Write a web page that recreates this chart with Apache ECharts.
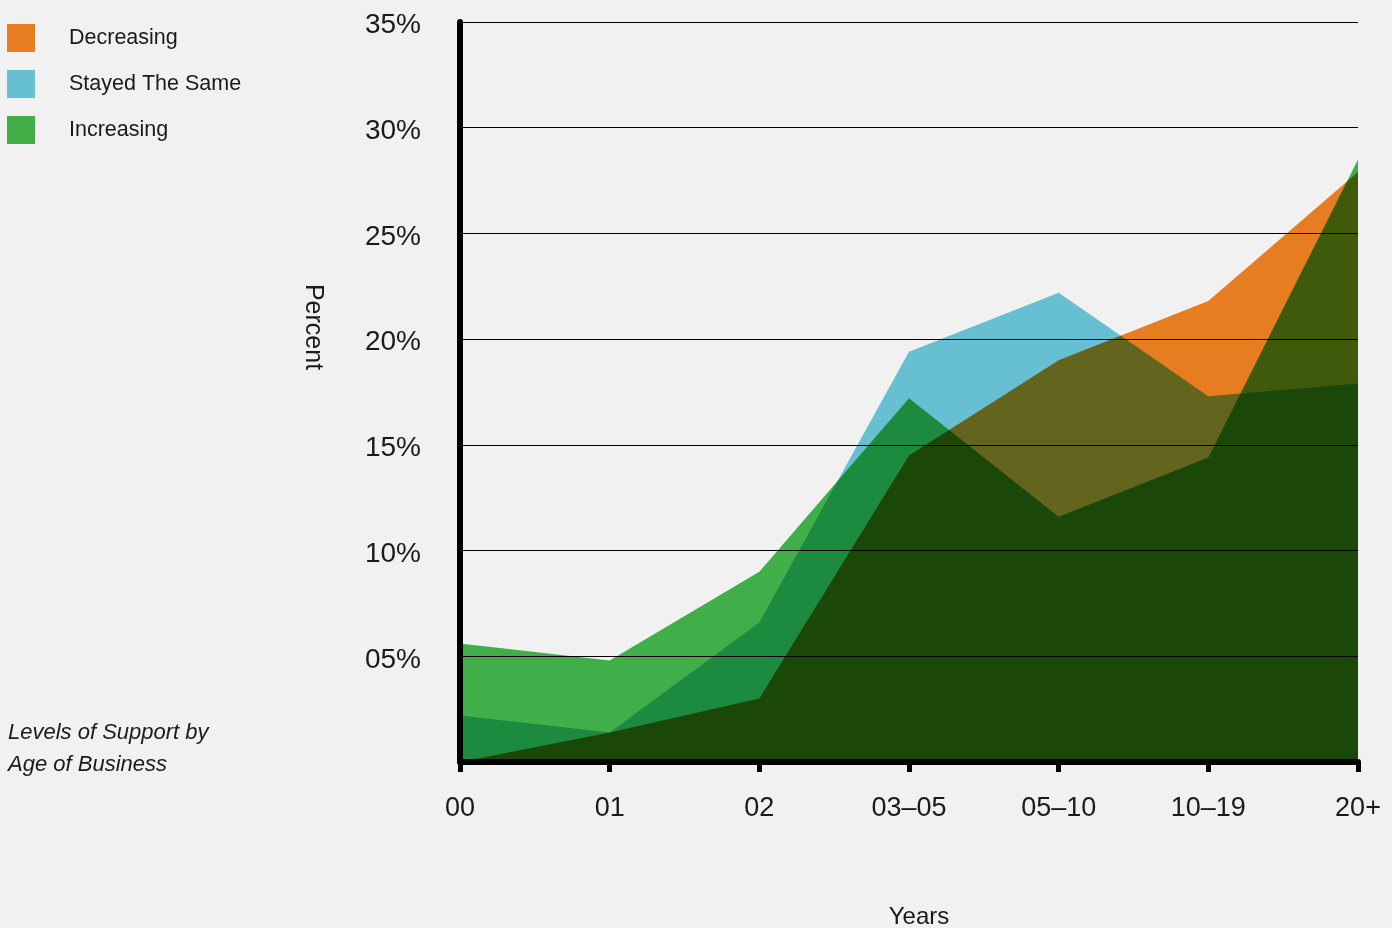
<!DOCTYPE html>
<html>
<head>
<meta charset="utf-8">
<title>Levels of Support by Age of Business</title>
<script src="https://cdn.jsdelivr.net/npm/echarts@6/dist/echarts.min.js"></script>
<style>
  html, body { margin: 0; padding: 0; background: #f0f1f0; }
  #chart { width: 1392px; height: 928px; }
</style>
</head>
<body>
<div id="chart"></div>
<script>
// Age of business buckets (years)
const categories = ['00', '01', '02', '03–05', '05–10', '10–19', '20+'];

// Share of businesses (%) by change in support level
const decreasing   = [0.0, 1.4, 3.0, 14.5, 19.0, 21.8, 27.9];
const stayedSame   = [2.2, 1.4, 6.6, 19.4, 22.2, 17.3, 17.9];
const increasing   = [5.6, 4.8, 9.0, 17.2, 11.6, 14.4, 28.5];

const seriesNames = ['Decreasing', 'Stayed The Same', 'Increasing'];
const yTickLabels = ['', '05%', '10%', '15%', '20%', '25%', '30%', '35%'];

// Fill colours are multiplied over the page; legend swatches show the resulting tone
const fillColors   = ['#f68423', '#6dcbde', '#44b84d'];
const swatchColors = ['#e87d21', '#67c0d1', '#41ae48'];

const FONT = "'Liberation Sans', Arial, sans-serif";
const INK = '#1a1a1a';

const chart = echarts.init(document.getElementById('chart'), null, { renderer: 'canvas' });

function areaSeries(name, data, color) {
  return {
    name: name,
    type: 'line',
    data: data,
    showSymbol: false,
    symbol: 'none',
    blendMode: 'multiply',
    lineStyle: { width: 0, opacity: 0 },
    itemStyle: { color: color },
    areaStyle: { color: color, opacity: 1 },
    emphasis: { disabled: true },
    silent: true
  };
}

chart.setOption({
  backgroundColor: '#f0f1f0',
  animation: false,
  textStyle: { fontFamily: FONT, color: INK },
  legend: {
    left: 7,
    top: 24,
    padding: 0,
    orient: 'vertical',
    icon: 'rect',
    itemWidth: 28,
    itemHeight: 28,
    itemGap: 18,
    selectedMode: false,
    textStyle: { fontFamily: FONT, fontSize: 21.5, color: INK, padding: [0, 0, 0, 29] },
    data: seriesNames.map((n, i) => ({ name: n, itemStyle: { color: swatchColors[i] } }))
  },
  grid: { left: 460, right: 34, top: 22, bottom: 166, containLabel: false },
  xAxis: {
    type: 'category',
    data: categories,
    boundaryGap: false,
    axisLine: { show: true, lineStyle: { color: '#000', width: 6 } },
    axisTick: { show: true, alignWithLabel: true, length: 10, lineStyle: { color: '#000', width: 5 } },
    axisLabel: { fontFamily: FONT, fontSize: 27, color: INK, margin: 33, interval: 0 },
    splitLine: { show: false }
  },
  yAxis: {
    type: 'value',
    min: 0,
    max: 35,
    interval: 5,
    axisLine: { show: true, lineStyle: { color: '#000', width: 6 } },
    axisTick: { show: false },
    axisLabel: {
      margin: 39,
      formatter: v => {
        const t = yTickLabels[Math.round(v / 5)];
        return t ? '{v|' + t + '}' : '';
      },
      rich: {
        v: { fontFamily: FONT, fontSize: 28, color: INK, padding: [7, 0, 0, 0] }
      }
    },
    splitLine: { show: true, lineStyle: { color: '#000', width: 1 } }
  },
  graphic: [
    {
      type: 'text', x: 313, y: 327, rotation: -Math.PI / 2,
      style: { text: 'Percent', fontFamily: FONT, fontSize: 25, fill: INK, align: 'center', verticalAlign: 'middle' }
    },
    {
      type: 'text', x: 919, y: 917,
      style: { text: 'Years', fontFamily: FONT, fontSize: 24, fill: INK, align: 'center', verticalAlign: 'middle' }
    },
    {
      type: 'text', x: 8, y: 717,
      style: {
        text: 'Levels of Support by\nAge of Business', fontFamily: FONT, fontSize: 22,
        fontStyle: 'italic', lineHeight: 32, fill: INK, align: 'left', verticalAlign: 'top'
      }
    }
  ],
  series: [
    areaSeries(seriesNames[0], decreasing, fillColors[0]),
    areaSeries(seriesNames[1], stayedSame, fillColors[1]),
    areaSeries(seriesNames[2], increasing, fillColors[2])
  ]
});
</script>
</body>
</html>
